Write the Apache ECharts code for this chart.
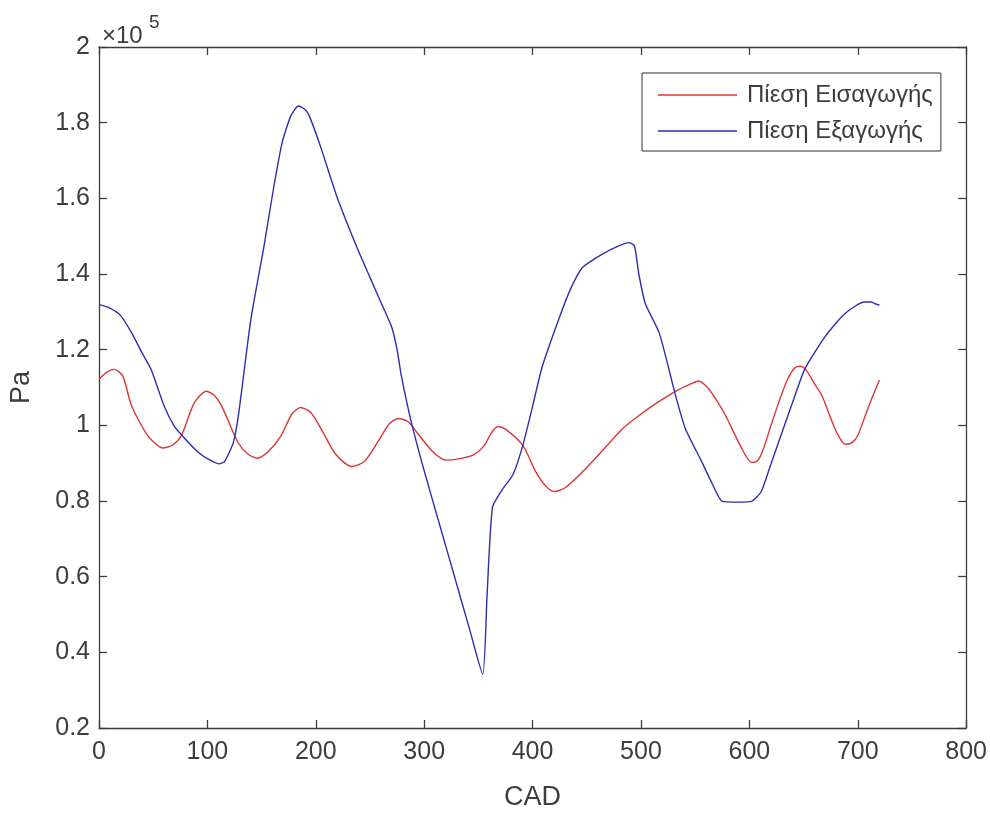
<!DOCTYPE html>
<html>
<head>
<meta charset="utf-8">
<script src="https://cdn.jsdelivr.net/npm/echarts@6/dist/echarts.min.js"></script>
<style>
html,body{margin:0;padding:0;background:#fff;}
#chart{width:990px;height:816px;}
</style>
</head>
<body>
<div id="chart"></div>
<script>
// Intake pressure (Pa) vs CAD
var intakeCAD = [0,7,14,22,30,45,59,68,76,88,99,106,113,128,137,146,156,168,178,186,195,205,218,233,245,258,268,276,285,295,308,320,333,345,355,362,368,375,391,403,412,420,430,446,465,483,500,515,532,545,553,562,570,578,593,602,607,612,620,627,635,642,647,652,660,667,679,686,690,695,700,710,720];
var intakeP = [112200,114000,114800,113000,105200,97300,94000,94800,97300,106000,109000,108000,105200,95600,92500,91300,93000,97300,103000,104700,103500,99000,92500,89100,90500,96000,100500,101800,101000,97500,93000,90800,91200,92100,94500,98000,99700,99000,94700,87700,84000,82500,83500,87700,93500,99100,103000,106000,109000,110800,111700,109800,106500,102600,93900,90200,90500,93000,100000,106000,112000,115200,115600,114800,111000,107800,99100,95500,95000,95500,97300,105000,112000];

// Exhaust pressure (Pa) vs CAD
var exhaustCAD = [0,10,20,30,40,48,60,69,76,91,100,111,116,124,129,140,152,161,169,177,184,190,194,204,220,238,250,262,270,275,279,288,300,315,330,342,354,358,363,372,382,391,400,409,425,435,446,464,480,489,494,498,504,517,532,541,556,565,575,590,602,611,619,627,642,651,670,688,706,712,717,720];
var exhaustP = [131900,131000,129000,124500,119000,114800,105200,100000,97500,93000,91200,89800,90500,95500,103400,127800,147000,162600,174800,181800,184400,183500,181800,174000,160000,147000,139100,131300,126000,120000,113000,101000,88000,73000,58000,46000,34200,55000,78300,83000,87000,94700,105000,115600,128700,136000,141700,145200,147500,148300,147400,140000,132200,124300,107800,99100,90400,85000,79900,79700,79900,82500,89000,95600,107800,114800,123500,129500,132600,132600,132000,131800];

var xTicks = {min:0, max:800, interval:100};
var yTicks = {min:20000, max:200000, interval:20000};
var seriesNames = ['Πίεση Εισαγωγής','Πίεση Εξαγωγής'];

function pairs(xs, ys){ return xs.map(function(x,i){ return [x, ys[i]]; }); }

var FONT = 'Liberation Sans, Arial, sans-serif';
var AX = '#3d3d3d';
var TXT = '#3d3d3d';
var RED = '#dc3535';
var BLUE = '#2e2eb0';

var chart = echarts.init(document.getElementById('chart'), null, {renderer:'canvas'});
var option = {
  animation:false,
  backgroundColor:'#ffffff',
  grid:{left:97, right:22, top:47, bottom:80, containLabel:false},
  graphic:[
    {type:'text', left:102, top:24, style:{text:'×10', font:'24px ' + FONT, fill:TXT}},
    {type:'text', left:149, top:13, style:{text:'5', font:'19px ' + FONT, fill:TXT}}
  ],
  legend:{
    data:seriesNames,
    orient:'vertical',
    left:642, top:73,
    padding:[10,8,8,16],
    itemGap:12,
    icon:'rect',
    itemWidth:79, itemHeight:1.6,
    borderColor:'#333', borderWidth:1,
    backgroundColor:'#fff',
    textStyle:{fontFamily:FONT, fontSize:24, color:TXT, lineHeight:24, padding:[0,0,0,5]}
  },
  xAxis:[
    {type:'value', min:xTicks.min, max:xTicks.max, interval:xTicks.interval, position:'bottom',
     name:'CAD', nameLocation:'middle', nameGap:56,
     nameTextStyle:{fontFamily:FONT, fontSize:27, color:TXT},
     axisLine:{show:true, onZero:false, lineStyle:{color:AX, width:1.3}},
     axisTick:{show:true, inside:true, length:8, lineStyle:{color:AX, width:1.3}},
     axisLabel:{fontFamily:FONT, fontSize:25, color:TXT, margin:12},
     splitLine:{show:false}},
    {type:'value', min:xTicks.min, max:xTicks.max, interval:xTicks.interval, position:'top',
     axisLine:{show:true, onZero:false, lineStyle:{color:AX, width:1.3}},
     axisTick:{show:true, inside:true, length:8, lineStyle:{color:AX, width:1.3}},
     axisLabel:{show:false}, splitLine:{show:false}}
  ],
  yAxis:[
    {type:'value', min:yTicks.min, max:yTicks.max, interval:yTicks.interval, position:'left',
     name:'Pa', nameLocation:'middle', nameGap:64, nameRotate:90,
     nameTextStyle:{fontFamily:FONT, fontSize:27, color:TXT},
     axisLine:{show:true, onZero:false, lineStyle:{color:AX, width:1.3}},
     axisTick:{show:true, inside:true, length:8, lineStyle:{color:AX, width:1.3}},
     axisLabel:{fontFamily:FONT, fontSize:25, color:TXT, margin:9,
       formatter:function(v){ return String(+(v/1e5).toFixed(1)); }},
     splitLine:{show:false}},
    {type:'value', min:yTicks.min, max:yTicks.max, interval:yTicks.interval, position:'right',
     axisLine:{show:true, onZero:false, lineStyle:{color:AX, width:1.3}},
     axisTick:{show:true, inside:true, length:8, lineStyle:{color:AX, width:1.3}},
     axisLabel:{show:false}, splitLine:{show:false}}
  ],
  series:[
    {name:seriesNames[0], type:'line', xAxisIndex:0, yAxisIndex:0,
     data:pairs(intakeCAD, intakeP), symbol:'none', showSymbol:false,
     smooth:0.25,
     lineStyle:{color:RED, width:1.4}, itemStyle:{color:RED}},
    {name:seriesNames[1], type:'line', xAxisIndex:0, yAxisIndex:0,
     data:pairs(exhaustCAD, exhaustP), symbol:'none', showSymbol:false,
     smooth:0.2,
     lineStyle:{color:BLUE, width:1.4}, itemStyle:{color:BLUE}}
  ]
};
chart.setOption(option);
</script>
</body>
</html>
